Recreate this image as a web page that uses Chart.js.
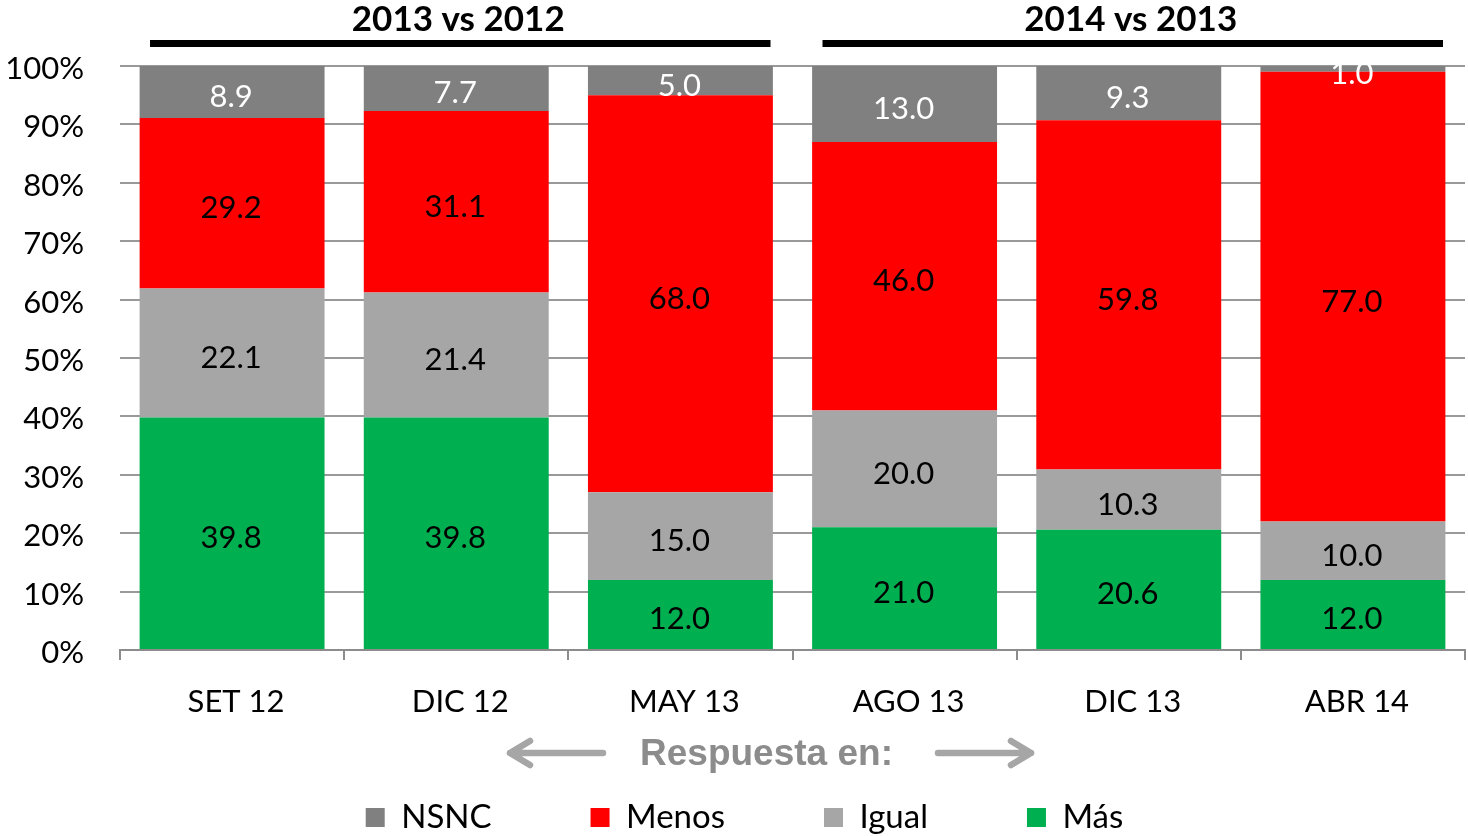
<!DOCTYPE html>
<html>
<head>
<meta charset="utf-8">
<script src="https://cdn.jsdelivr.net/npm/chart.js@4.4.1/dist/chart.umd.min.js"></script>
<style>
html,body{margin:0;padding:0;background:#fff;}
#wrap{width:1468px;height:836px;position:relative;}
</style>
</head>
<body>
<div id="wrap"><canvas id="c" width="1468" height="836"></canvas></div>
<script>
const categories = ['SET 12','DIC 12','MAY 13','AGO 13','DIC 13','ABR 14'];
const masValues   = [39.8, 39.8, 12.0, 21.0, 20.6, 12.0];
const igualValues = [22.1, 21.4, 15.0, 20.0, 10.3, 10.0];
const menosValues = [29.2, 31.1, 68.0, 46.0, 59.8, 77.0];
const nsncValues  = [8.9, 7.7, 5.0, 13.0, 9.3, 1.0];
const groupTitles = ['2013 vs 2012', '2014 vs 2013'];
const groupRanges = [[0, 2], [3, 5]];
const axisNote = 'Respuesta en:';

const FONT = 'Lato';
Chart.defaults.font.family = FONT;
Chart.defaults.color = '#000';

const labelPlugin = {
  id: 'labels',
  afterDatasetsDraw(chart) {
    const ctx = chart.ctx;
    ctx.save();
    ctx.font = '31px ' + FONT;
    ctx.textAlign = 'center';
    ctx.textBaseline = 'middle';
    chart.data.datasets.forEach((ds, di) => {
      const meta = chart.getDatasetMeta(di);
      meta.data.forEach((el, i) => {
        const v = ds.data[i];
        ctx.fillStyle = ds.labelColor;
        ctx.fillText(v.toFixed(1), el.x - 1, (el.y + el.base) / 2 + 5);
      });
    });
    ctx.restore();
  }
};

// keep the library legend but let it sit low with wide item spacing
const legendPlacement = {
  id: 'legendPlacement',
  beforeLayout(chart) {
    const lg = chart.legend;
    if (!lg || lg.__patched) return;
    lg.__patched = true;
    const orig = lg._draw;
    lg._draw = function () {
      const t = this.top, l = this.left, r = this.right;
      const pad = this.options.labels.padding;
      this.top = this.bottom - 35 - pad;
      this.left = l + 12;
      this.right = r + 12;
      orig.call(this);
      this.top = t; this.left = l; this.right = r;
    };
  }
};

const decoPlugin = {
  id: 'deco',
  afterDraw(chart) {
    const ctx = chart.ctx;
    const x = chart.scales.x;
    const half = (x.getPixelForValue(1) - x.getPixelForValue(0)) / 2;
    ctx.save();
    groupRanges.forEach((r, gi) => {
      const left = x.getPixelForValue(r[0]) - half;
      const right = x.getPixelForValue(r[1]) + half;
      const cx = (x.getPixelForValue(r[0]) + x.getPixelForValue(r[1])) / 2;
      ctx.fillStyle = '#000';
      ctx.fillRect(left + 30, 40, right - left - 52, 7);
      ctx.font = 'bold 35px ' + FONT;
      ctx.textAlign = 'center';
      ctx.textBaseline = 'middle';
      ctx.fillText(groupTitles[gi], cx + 2, 20);
    });
    const cx = (chart.chartArea.left + chart.chartArea.right) / 2 - 26;
    const cy = 755;
    ctx.font = 'bold 37px "Liberation Sans"';
    ctx.fillStyle = '#8c8c8c';
    ctx.textAlign = 'center';
    ctx.textBaseline = 'middle';
    ctx.fillText(axisNote, cx, cy);
    ctx.strokeStyle = '#a6a6a6';
    ctx.lineWidth = 6.5;
    ctx.lineCap = 'round';
    ctx.lineJoin = 'round';
    ctx.beginPath();
    ctx.moveTo(603, cy - 2); ctx.lineTo(510, cy - 2);
    ctx.moveTo(530, cy - 14); ctx.lineTo(510, cy - 2); ctx.lineTo(530, cy + 10);
    ctx.stroke();
    ctx.beginPath();
    ctx.moveTo(938, cy - 2); ctx.lineTo(1031, cy - 2);
    ctx.moveTo(1011, cy - 14); ctx.lineTo(1031, cy - 2); ctx.lineTo(1011, cy + 10);
    ctx.stroke();
    ctx.restore();
  }
};

new Chart(document.getElementById('c'), {
  type: 'bar',
  data: {
    labels: categories,
    datasets: [
      { label: 'Más', data: masValues, backgroundColor: '#00b050', labelColor: '#000' },
      { label: 'Igual', data: igualValues, backgroundColor: '#a6a6a6', labelColor: '#000' },
      { label: 'Menos', data: menosValues, backgroundColor: '#ff0000', labelColor: '#000' },
      { label: 'NSNC', data: nsncValues, backgroundColor: '#808080', labelColor: '#fff' }
    ]
  },
  options: {
    responsive: false,
    animation: false,
    devicePixelRatio: 1,
    layout: { padding: { top: 66, right: 3, left: 0, bottom: 0 } },
    datasets: { bar: { barPercentage: 0.825, categoryPercentage: 1 } },
    plugins: {
      tooltip: { enabled: false },
      legend: {
        position: 'bottom',
        reverse: true,
        maxHeight: 50,
        labels: {
          font: { size: 33, family: FONT },
          color: '#000',
          boxWidth: 19,
          boxHeight: 19,
          padding: 99
        }
      }
    },
    scales: {
      x: {
        stacked: true,
        border: { display: true, color: '#8c8c8c', width: 2 },
        grid: { display: true, drawOnChartArea: false, drawTicks: true, tickLength: 10, offset: true, color: '#8c8c8c', lineWidth: 2 },
        ticks: { font: { size: 31, family: FONT }, color: '#000', padding: 23, labelOffset: 4, maxRotation: 0 },
        afterFit(scale) { scale.height = 136; }
      },
      y: {
        stacked: true,
        min: 0, max: 100,
        border: { display: false },
        grid: { color: '#999999', lineWidth: 2, drawTicks: false },
        ticks: { stepSize: 10, font: { size: 31, family: FONT }, color: '#000', padding: 36, labelOffset: 3, callback: v => v + '%' },
        afterFit(scale) { scale.width = 120; }
      }
    }
  },
  plugins: [labelPlugin, legendPlacement, decoPlugin]
});
</script>
</body>
</html>
